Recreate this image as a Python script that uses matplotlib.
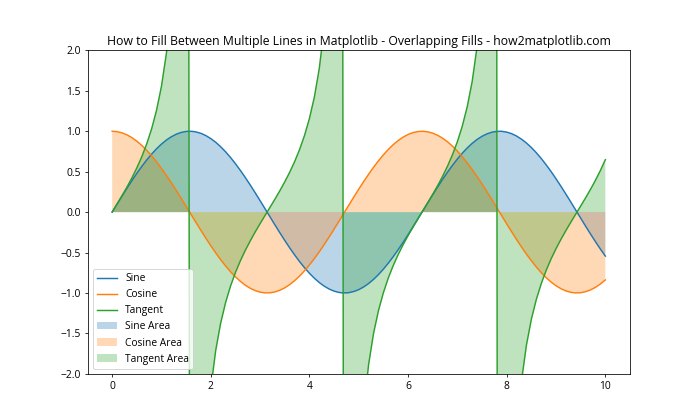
import matplotlib
matplotlib.use("Agg")
import matplotlib.pyplot as plt
import numpy as np

plt.rcParams['font.family'] = ['Open Sans', 'DejaVu Sans']
plt.rcParams['font.size'] = 10.5

x = [0.0, 0.1, 0.2, 0.3, 0.4, 0.5, 0.6, 0.7, 0.8, 0.9, 1.0, 1.1, 1.2, 1.3, 1.4, 1.5,
     1.515, 1.616,
     1.7, 1.8, 1.9, 2.0, 2.1, 2.2, 2.3, 2.4, 2.5, 2.6, 2.7, 2.8, 2.9, 3.0, 3.1, 3.2,
     3.3, 3.4, 3.5, 3.6, 3.7, 3.8, 3.9, 4.0, 4.1, 4.2, 4.3, 4.4, 4.5, 4.6,
     4.6465, 4.7475,
     4.8, 4.9, 5.0, 5.1, 5.2, 5.3, 5.4, 5.5, 5.6, 5.7, 5.8, 5.9, 6.0, 6.1, 6.2, 6.3,
     6.4, 6.5, 6.6, 6.7, 6.8, 6.9, 7.0, 7.1, 7.2, 7.3, 7.4, 7.5, 7.6, 7.7,
     7.778, 7.879,
     7.9, 8.0, 8.1, 8.2, 8.3, 8.4, 8.5, 8.6, 8.7, 8.8, 8.9, 9.0, 9.1, 9.2, 9.3, 9.4,
     9.5, 9.6, 9.7, 9.8, 9.9, 10.0]

sine = [0.0, 0.0998, 0.1987, 0.2955, 0.3894, 0.4794, 0.5646, 0.6442, 0.7174, 0.7833,
        0.8415, 0.8912, 0.9320, 0.9636, 0.9854, 0.9975,
        0.9985, 0.9990,
        0.9917, 0.9738, 0.9463, 0.9093, 0.8632, 0.8085, 0.7457, 0.6755, 0.5985,
        0.5155, 0.4274, 0.3350, 0.2392, 0.1411, 0.0416, -0.0584, -0.1577, -0.2555,
        -0.3508, -0.4425, -0.5298, -0.6119, -0.6877, -0.7568, -0.8182, -0.8716,
        -0.9161, -0.9516, -0.9775, -0.9937,
        -0.9978, -0.9994,
        -0.9962, -0.9825, -0.9589, -0.9258, -0.8835, -0.8323, -0.7728, -0.7056,
        -0.6313, -0.5507, -0.4646, -0.3739, -0.2794, -0.1822, -0.0831, 0.0168,
        0.1165, 0.2150, 0.3115, 0.4047, 0.4941, 0.5784, 0.6570, 0.7289, 0.7937,
        0.8504, 0.8987, 0.9380, 0.9679, 0.9882,
        0.9971, 0.9997,
        0.9989, 0.9894, 0.9699, 0.9407, 0.9021, 0.8546, 0.7985, 0.7344, 0.6630,
        0.5849, 0.5011, 0.4121, 0.3191, 0.2229, 0.1245, 0.0248, -0.0751, -0.1743,
        -0.2717, -0.3665, -0.4576, -0.5440]

cosine = [1.0, 0.9950, 0.9801, 0.9553, 0.9211, 0.8776, 0.8253, 0.7648, 0.6967, 0.6216,
          0.5403, 0.4536, 0.3624, 0.2675, 0.1700, 0.0707,
          0.0556, -0.0454,
          -0.1288, -0.2272, -0.3233, -0.4161, -0.5048, -0.5885, -0.6663, -0.7374,
          -0.8011, -0.8569, -0.9040, -0.9422, -0.9710, -0.9900, -0.9991, -0.9983,
          -0.9875, -0.9668, -0.9365, -0.8968, -0.8481, -0.7910, -0.7259, -0.6536,
          -0.5748, -0.4903, -0.4008, -0.3073, -0.2108, -0.1122,
          -0.0659, 0.0351,
          0.0875, 0.1865, 0.2837, 0.3780, 0.4685, 0.5544, 0.6347, 0.7086, 0.7756,
          0.8347, 0.8855, 0.9275, 0.9602, 0.9833, 0.9965, 0.9998, 0.9932, 0.9766,
          0.9502, 0.9143, 0.8694, 0.8158, 0.7539, 0.6845, 0.6084, 0.5262, 0.4385,
          0.3466, 0.2513, 0.1534,
          0.0762, -0.0248,
          -0.0460, -0.1455, -0.2435, -0.3392, -0.4314, -0.5193, -0.6020, -0.6787,
          -0.7486, -0.8111, -0.8654, -0.9111, -0.9476, -0.9748, -0.9922, -0.9997,
          -0.9972, -0.9847, -0.9624, -0.9304, -0.8891, -0.8391]

tangent = [0.0, 0.1003, 0.2027, 0.3093, 0.4228, 0.5463, 0.6841, 0.8423, 1.0296, 1.2602,
           1.5574, 1.9648, 2.5722, 3.6021, 5.7979, 14.101,
           17.97, -22.0,
           -7.697, -4.286, -2.927, -2.185, -1.710, -1.374, -1.119, -0.916, -0.747,
           -0.602, -0.473, -0.356, -0.246, -0.1425, -0.0416, 0.0585, 0.1597, 0.2643,
           0.3746, 0.4934, 0.6247, 0.7736, 0.9474, 1.1578, 1.4235, 1.7777, 2.2857,
           3.0963, 4.637, 8.860,
           15.14, -28.47,
           -11.385, -5.268, -3.3805, -2.449, -1.886, -1.501, -1.218, -0.996, -0.814,
           -0.660, -0.525, -0.403, -0.291, -0.185, -0.0834, 0.0168, 0.1173, 0.2202,
           0.3279, 0.4427, 0.5683, 0.7090, 0.8714, 1.0648, 1.3046, 1.616, 2.0496,
           2.706, 3.8514, 6.442,
           13.09, -40.3,
           -21.72, -6.80, -3.983, -2.773, -2.091, -1.6457, -1.326, -1.0821, -0.886,
           -0.7211, -0.579, -0.4523, -0.337, -0.2287, -0.1255, -0.0248, 0.0753,
           0.1770, 0.2823, 0.3939, 0.5147, 0.6484]

fig, ax = plt.subplots(figsize=(10, 6), dpi=70)
ax.plot(x, sine, label='Sine')
ax.plot(x, cosine, label='Cosine')
ax.plot(x, tangent, label='Tangent')
ax.fill_between(x, sine, 0, alpha=0.3, label='Sine Area')
ax.fill_between(x, cosine, 0, alpha=0.3, label='Cosine Area')
ax.fill_between(x, tangent, 0, alpha=0.3, label='Tangent Area')
ax.set_ylim(-2, 2)
ax.set_title('How to Fill Between Multiple Lines in Matplotlib - Overlapping Fills - how2matplotlib.com')
ax.legend(loc='lower left')
fig.savefig('out.png')
